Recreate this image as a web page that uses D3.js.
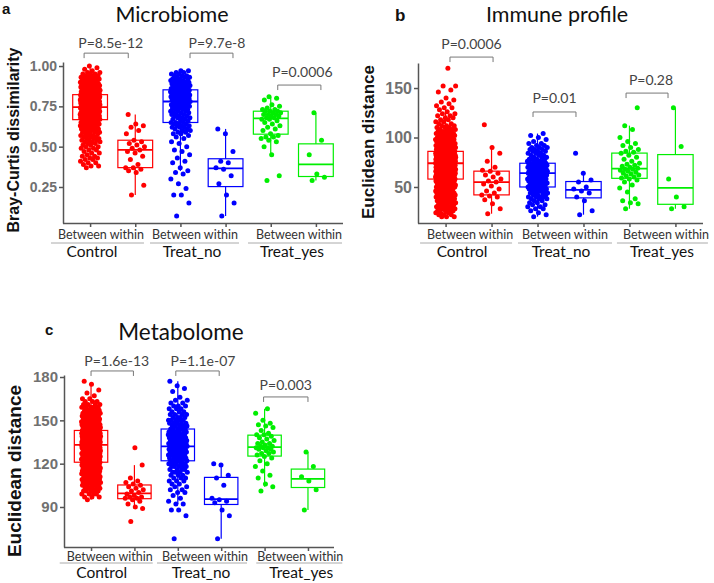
<!DOCTYPE html>
<html><head><meta charset="utf-8">
<script src="https://cdn.jsdelivr.net/npm/d3@7"></script>
<style>body{margin:0;background:#fff} svg{display:block}</style>
</head><body>
<svg id="chart" width="714" height="583"></svg>
<script>
// ---------------- DATA ----------------
const groups = ["Control", "Treat_no", "Treat_yes"];
const types = ["Between", "within"];
const groupColors = ["#ff0000", "#0000ff", "#00ee00"];

// Panel a: Microbiome (Bray-Curtis dissimilarity)
const microTicks = [0.25, 0.50, 0.75, 1.00];
const microCtrlBetweenVals = [0.37,0.38,0.39,0.40,0.41,0.42,0.43,0.44,0.45,0.46,0.47,0.48,0.49,0.50,0.51,0.52,0.53,0.54,0.55,0.56,0.57,0.58,0.59,0.60,0.61,0.62,0.63,0.64,0.65,0.66,0.67,0.68,0.69,0.70,0.71,0.72,0.73,0.74,0.75,0.76,0.77,0.78,0.79,0.80,0.81,0.82,0.83,0.84,0.85,0.86,0.87,0.88,0.89,0.90,0.91,0.92,0.93,0.94,0.95,0.96,0.97,0.98,0.99,1.00];
const microCtrlBetweenCounts = [1,2,1,2,1,2,2,2, 1,2,1,2,2,2,2,2,3,3,3,3,3,3,4,4,4,4,4,5,5,5, 10,10,10,10,10,10,10,10, 10,10,10,10,10,10,10,10, 8,8,8,7,7,6,6,5,5,4,4,3,3,2,1,1,1,1];
const microCtrlWithin = [0.20,0.26,0.34,0.35,0.36,0.37,0.37,0.39,0.42,0.44,0.46,0.47,0.48,0.49,0.50,0.51,0.52,0.53,0.54,0.58,0.60,0.62,0.63,0.64,0.70];
const microNoBetweenVals = [0.07,0.15,0.20,0.24,0.27,0.30,0.33,0.34,0.35,0.37,0.40,0.41,0.43,0.45,0.47,0.48,0.50,0.52,0.53,0.55,0.56,0.57,0.58,0.59,0.60,0.61,0.62,0.63,0.64,0.65,0.66,0.67,0.68,0.69,0.70,0.71,0.72,0.73,0.74,0.75,0.76,0.77,0.78,0.79,0.80,0.81,0.82,0.83,0.84,0.85,0.86,0.87,0.88,0.89,0.90,0.91,0.92,0.93,0.94,0.95,0.96,0.97];
const microNoBetweenCounts = [1,1,2,1,1,1,1,1,1,1,1,1,1,1,1,1,1,1,1,1,1,1, 2,2,2,2,3,3,3,3,2,2,3,3,3,3,3,3,4,4,4,4,5,4,5,5,6,6,8,6,5,5,5,4,4,4,3,3,3,2,2,2];
const microNoWithin = [0.07,0.15,0.20,0.27,0.32,0.36,0.37,0.40,0.41,0.47,0.58,0.61];
const microYesBetween = [0.29,0.32,0.45,0.50,0.53,0.54,0.55,0.56,0.56,0.57,0.58,0.60,0.61,0.62,0.63,0.64,0.65,0.66,0.67,0.67,0.68,0.68,0.69,0.69,0.70,0.70,0.70,0.71,0.71,0.72,0.72,0.72,0.73,0.73,0.74,0.75,0.76,0.79,0.80,0.81];
const microYesWithin = [0.29,0.31,0.33,0.45,0.54,0.71];
const microP = ["P=8.5e-12", "P=9.7e-8", "P=0.0006"];
const microPLevel = [1.08, 1.08, 0.882];

// Panel b: Immune profile (Euclidean distance)
const immTicks = [50, 100, 150];
const immCtrlBetweenVals = [20,22,24,26,28,30,32,34,36,38,40,42,44,46,48,50,52,54,56,58,60,62,64,66,68,70,72,74,76,78,80,82,84,86,88,90,92,94,96,98,100,102,104,106,108,110,112,114,116,118,120,122,124,126,128,130,132,134,136,138,140,146,148,152,170];
const immCtrlBetweenCounts = [3,3,3,4,4,4,4,5,5,5,5,6,6,6,6,7,7,7,9, 12,13,13,13,13,13,13,13, 16,16,16,16,16,16, 8,8,8,8,7,7,6,6,5,5,4,4,3,3,2,2,2,2,2,2,1,1,2,1,1,1,1,1,1,1,2,1];
const immCtrlWithin = [23,28,33,37,40,41,42,44,46,48,51,53,55,56,58,60,62,64,66,67,70,76,84,90,113];
const immNoBetweenVals = [20,22,24,26,28,30,32,34,36,38,40,42,44,46,48,50,52,54,56,58,60,62,64,66,68,70,72,74,76,78,80,82,84,86,88,90,92,94,96,98,100,102,104];
const immNoBetweenCounts = [1,1,1,1,2,2,2,2,2,3,4,3,4,4,4, 5,5,5,5,6,6,6,7, 7,7,7,6,6, 4,4,3,3,3,3,3,3,2,2,1,1,1,1,1];
const immNoWithin = [22,26,36,40,44,46,48,50,55,57,64,84];
const immYesBetween = [28,33,34,36,38,45,49,52,55,57,58,59,60,61,62,63,64,65,66,67,68,68,69,70,71,72,73,74,76,78,80,82,84,85,86,88,90,92,94,96,100,108,112,130];
const immYesWithin = [28,30,40,58,91,130];
const immP = ["P=0.0006", "P=0.01", "P=0.28"];
const immPLevel = [181.3, 125.8, 144.9];

// Panel c: Metabolome (Euclidean distance)
const metTicks = [90, 120, 150, 180];
const metCtrlBetweenVals = [95,97,99,101,103,105,107,109,111,113,115,117,119,121,123,125,127,129,131,133,135,137,139,141,143,145,147,149,151,153,155,157,159,161,163,165,167,169,171,175,177];
const metCtrlBetweenCounts = [1,3,4,5,6,7,8,9,10,11,12,12,12, 16,16,17,17,17,17, 20,20,20,20,20, 14,13,12,11,10,9,8,6,5,4,3,2,1,1,1,1,1];
const metCtrlWithin = [80,89,90,92,94,95,96,96,97,97,98,99,100,101,102,103,104,105,106,107,108,110,119,131];
const metNoBetweenVals = [68,84,88,92,94,96,98,100,102,104,106,108,110,112,114,116,118,120,122,124,126,128,130,132,134,136,138,140,142,144,146,148,150,152,154,156,158,160,162,164,166,170,172,174,177];
const metNoBetweenCounts = [1,1,2,2,1,1,1,2,2,2,2,3,3,3,4,4,5,5, 7,7,8,8,8,8, 9,9,8,8,6, 5,6,5,5,4,4,3,3,3,2,2,1,1,1,1,1];
const metNoWithin = [68,84,88,93,94,95,96,105,110,112,119,120];
const metYesBetween = [101,104,106,110,112,115,118,120,122,124,125,126,127,127,128,129,130,130,131,131,131,132,132,133,134,134,135,136,137,138,139,140,140,141,143,145,146,147,148,150,155,158];
const metYesWithin = [88,102,108,111,118,128];
const metP = ["P=1.6e-13", "P=1.1e-07", "P=0.003"];
const metPLevel = [184.2, 184.2, 166.2];

// ---------------- HELPERS ----------------
function expand(values, counts) {
  const out = [];
  values.forEach((v, i) => { const c = counts ? counts[i] : 1; for (let j = 0; j < c; j++) out.push(v); });
  return out;
}
function boxStats(arr) {
  const s = arr.slice().sort(d3.ascending);
  const q1 = d3.quantile(s, 0.25), med = d3.quantile(s, 0.5), q3 = d3.quantile(s, 0.75);
  const iqr = q3 - q1;
  const lo = d3.min(s.filter(v => v >= q1 - 1.5 * iqr));
  const hi = d3.max(s.filter(v => v <= q3 + 1.5 * iqr));
  return {q1, med, q3, lo, hi};
}

const panels = [
  {
    letter: "a", title: "Microbiome", ylab: "Bray-Curtis dissimilarity",
    series: [expand(microCtrlBetweenVals, microCtrlBetweenCounts), microCtrlWithin,
             expand(microNoBetweenVals, microNoBetweenCounts), microNoWithin, microYesBetween, microYesWithin],
    ticks: microTicks, fmt: d3.format(".2f"), pText: microP, pLevel: microPLevel,
    L: { ax: 63, xr: [63, 343], yDomain: [0.0267, 1.025], yRange: [223, 62],
         tickFont: 14, ylabFont: 16, ylabX: 19, ylabY: 140,
         letterX: 2, letterY: 14, letterFont: 15, titleX: 172, titleY: 22, titleFont: 21.5,
         brDx: [[-6, -7], [9.6, 7.4], [7, 5]], pDy: [-5, -5, -8], pDx: [4.5, 5.5, 3],
         bwY: 239, bwDx: [-11.7, -8, 5.7], ulY: 243, ulDx: [-15.2, -8.5, 1.7], ulW: [93, 89, 94],
         gY: 257, gDx: [-20.7, -11, -1.3] }
  },
  {
    letter: "b", title: "Immune profile", ylab: "Euclidean distance",
    series: [expand(immCtrlBetweenVals, immCtrlBetweenCounts), immCtrlWithin,
             expand(immNoBetweenVals, immNoBetweenCounts), immNoWithin, immYesBetween, immYesWithin],
    ticks: immTicks, fmt: d3.format("d"), pText: immP, pLevel: immPLevel,
    L: { ax: 418, xr: [418, 703], yDomain: [13.6, 175.3], yRange: [223, 63],
         tickFont: 16, ylabFont: 17, ylabX: 374, ylabY: 142,
         letterX: 395, letterY: 21, letterFont: 17, titleX: 557, titleY: 22, titleFont: 21.5,
         brDx: [[4.4, 1.5], [-4.5, -7.5], [-3.4, -7.4]], pDy: [-8, -9, -8], pDx: [0, 0, 4],
         bwY: 239, bwDx: [1.5, 4.5, 13.6], ulY: 243, ulDx: [-2.5, 4.5, 10], ulW: [92, 94, 91],
         gY: 257, gDx: [-6.5, 0.5, 9.6] }
  },
  {
    letter: "c", title: "Metabolome", ylab: "Euclidean distance",
    series: [expand(metCtrlBetweenVals, metCtrlBetweenCounts), metCtrlWithin,
             expand(metNoBetweenVals, metNoBetweenCounts), metNoWithin, metYesBetween, metYesWithin],
    ticks: metTicks, fmt: d3.format("d"), pText: metP, pLevel: metPLevel,
    L: { ax: 64, xr: [65, 334], yDomain: [62.3, 181.4], yRange: [547, 375],
         tickFont: 15, ylabFont: 19, ylabX: 21, ylabY: 471,
         letterX: 45, letterY: 335, letterFont: 15, titleX: 181, titleY: 340, titleFont: 22.5,
         brDx: [[0, -1], [-2, -2], [-1, 0]], pDy: [-5, -5, -7], pDx: [4.5, 5.5, 0],
         bwY: 561, bwDx: [-3, 5.5, 14], ulY: 563, ulDx: [-6.5, 2.5, 13], ulW: [93, 90, 86],
         gY: 578, gDx: [-11, 1.5, 15] }
  }
];

// ---------------- DRAW ----------------
const svg = d3.select("#chart");
const cats = [];
groups.forEach(g => types.forEach(t => cats.push(g + "|" + t)));
const sansBold = "'Liberation Sans', Arial, sans-serif";
const lato = "Lato, 'Open Sans', sans-serif";

panels.forEach(p => {
  const L = p.L;
  const g = svg.append("g");
  const x = d3.scalePoint().domain(cats).range(L.xr).padding(0.6);
  const y = d3.scaleLinear().domain(L.yDomain).range(L.yRange);
  const step = x.step();
  const boxW = step * 0.77;
  const jw = step * 0.22;
  const yBottom = L.yRange[0];

  // axes
  const yAxis = g.append("g").attr("transform", `translate(${L.ax},0)`)
    .call(d3.axisLeft(y).tickValues(p.ticks).tickFormat(p.fmt).tickSize(4).tickSizeOuter(0).tickPadding(2));
  yAxis.selectAll("path,line").attr("stroke", "#555").attr("stroke-width", 1.5);
  yAxis.selectAll("text").attr("font-family", sansBold).attr("font-weight", "bold")
    .attr("font-size", L.tickFont).attr("fill", "#707070");
  const xAxis = g.append("g").attr("transform", `translate(0,${yBottom})`)
    .call(d3.axisBottom(x).tickFormat("").tickSize(4).tickSizeOuter(0));
  xAxis.selectAll("path,line").attr("stroke", "#555").attr("stroke-width", 1.5);
  xAxis.select("path.domain").attr("d", `M${L.ax},0.5H${L.xr[1]}`);

  // boxes
  p.series.forEach((vals, i) => {
    const gi = Math.floor(i / 2);
    const col = groupColors[gi];
    const cx = x(cats[i]);
    const st = boxStats(vals);
    g.append("line").attr("x1", cx).attr("x2", cx).attr("y1", y(st.q3)).attr("y2", y(st.hi))
      .attr("stroke", col).attr("stroke-width", 1.2);
    g.append("line").attr("x1", cx).attr("x2", cx).attr("y1", y(st.q1)).attr("y2", y(st.lo))
      .attr("stroke", col).attr("stroke-width", 1.2);
    g.append("rect").attr("x", cx - boxW / 2).attr("width", boxW)
      .attr("y", y(st.q3)).attr("height", y(st.q1) - y(st.q3))
      .attr("fill", "none").attr("stroke", col).attr("stroke-width", 1.2);
    g.append("line").attr("x1", cx - boxW / 2).attr("x2", cx + boxW / 2)
      .attr("y1", y(st.med)).attr("y2", y(st.med)).attr("stroke", col).attr("stroke-width", 1.8);
  });
  // points (jittered horizontally)
  p.series.forEach((vals, i) => {
    const gi = Math.floor(i / 2);
    const col = groupColors[gi];
    const cx = x(cats[i]);
    g.append("g").selectAll("circle").data(vals).join("circle")
      .attr("cx", (d, k) => cx + (((k * 0.6180339887 + 0.31) % 1) - 0.5) * 2 * jw)
      .attr("cy", d => y(d)).attr("r", 2.5).attr("fill", col);
  });

  // significance brackets
  p.pText.forEach((txt, j) => {
    const x1 = x(cats[2 * j]) + L.brDx[j][0];
    const x2 = x(cats[2 * j + 1]) + L.brDx[j][1];
    const yy = y(p.pLevel[j]);
    g.append("path").attr("d", `M${x1},${yy + 5}V${yy}H${x2}V${yy + 5}`)
      .attr("fill", "none").attr("stroke", "#777").attr("stroke-width", 1);
    g.append("text").attr("x", (x1 + x2) / 2 + L.pDx[j]).attr("y", yy + L.pDy[j])
      .attr("text-anchor", "middle").attr("font-family", lato).attr("font-size", 14)
      .attr("fill", "#444").text(txt);
  });

  // category labels under axis
  groups.forEach((gr, j) => {
    const gc = (x(cats[2 * j]) + x(cats[2 * j + 1])) / 2;
    g.append("text").attr("x", gc + L.bwDx[j]).attr("y", L.bwY).attr("text-anchor", "middle")
      .attr("font-family", lato).attr("font-size", 12.5).attr("fill", "#333").text("Between within");
    const uc = gc + L.ulDx[j];
    g.append("line").attr("x1", uc - L.ulW[j] / 2).attr("x2", uc + L.ulW[j] / 2)
      .attr("y1", L.ulY).attr("y2", L.ulY).attr("stroke", "#aaa").attr("stroke-width", 1);
    g.append("text").attr("x", gc + L.gDx[j]).attr("y", L.gY).attr("text-anchor", "middle")
      .attr("font-family", lato).attr("font-size", 15.5).attr("fill", "#111").text(gr);
  });

  // titles & labels
  g.append("text").attr("x", L.titleX).attr("y", L.titleY).attr("text-anchor", "middle")
    .attr("font-family", lato).attr("font-size", L.titleFont).attr("fill", "#111").text(p.title);
  g.append("text").attr("x", L.letterX).attr("y", L.letterY)
    .attr("font-family", sansBold).attr("font-weight", "bold").attr("font-size", L.letterFont)
    .attr("fill", "#111").text(p.letter);
  g.append("text").attr("transform", `translate(${L.ylabX},${L.ylabY}) rotate(-90)`)
    .attr("text-anchor", "middle").attr("font-family", sansBold).attr("font-weight", "bold")
    .attr("font-size", L.ylabFont).attr("fill", "#111").text(p.ylab);
});
</script>
</body></html>
